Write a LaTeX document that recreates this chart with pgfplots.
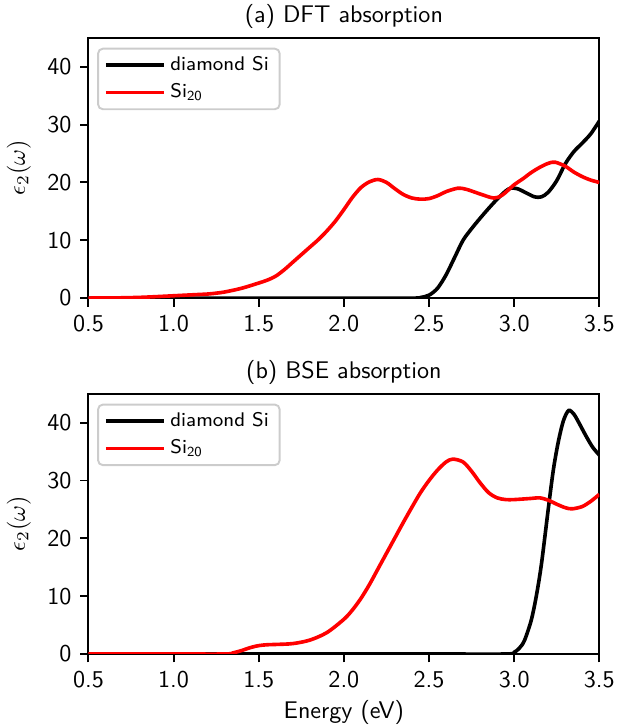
\documentclass[border=0pt]{standalone}
\usepackage{pgfplots}
\pgfplotsset{compat=1.18}
\renewcommand{\familydefault}{\sfdefault}

\pgfplotsset{
  panel/.style={
    width=212pt, height=108pt, scale only axis,
    xmin=0.5, xmax=3.5, ymin=0, ymax=45,
    xtick={0.5,1.0,1.5,2.0,2.5,3.0,3.5},
    ytick={0,10,20,30,40},
    xticklabel style={/pgf/number format/.cd, fixed, fixed zerofill, precision=1},
    /pgf/number format/assume math mode=true,
    tick label style={font=\sffamily\fontsize{10}{12}\selectfont},
    label style={font=\sffamily\fontsize{10}{12}\selectfont},
    xlabel style={yshift=1.7pt},
    title style={font=\sffamily\fontsize{10}{12}\selectfont, yshift=-5.5pt},
    tick align=outside, major tick length=3.5pt,
    xtick pos=bottom, ytick pos=left,
    axis line style={line width=0.8pt},
    every tick/.style={black, line width=0.8pt},
    ylabel={$\epsilon_2(\omega)$},
    legend cell align=left,
    legend style={
      at={(0.017,0.962)}, anchor=north west,
      draw=black!20, line width=0.8pt, rounded corners=2pt,
      fill=white, fill opacity=0.8, text opacity=1,
      font=\sffamily\fontsize{8.2}{9.5}\selectfont,
      row sep=0pt, inner xsep=2.5pt, inner ysep=1.2pt,
    },
    legend image code/.code={\draw[#1] (0pt,0pt) -- (24pt,0pt);},
    every axis plot/.append style={line width=1.5pt, smooth, tension=0.5},
  },
}

\begin{document}
\begin{tikzpicture}
\begin{axis}[panel, title={(a) DFT absorption}, at={(0,0)}]
\addplot[black] coordinates {
  (0.5,0) (1.5,0) (2.4,0) (2.45,0.1) (2.5,0.5) (2.55,1.7) (2.6,4.0) (2.65,7.0)
  (2.7,10.0) (2.75,12.0) (2.8,13.8) (2.85,15.5) (2.9,17.1) (2.95,18.5)
  (2.98,19.0) (3.02,18.9) (3.07,18.2) (3.12,17.5) (3.16,17.5) (3.2,18.3)
  (3.25,20.3) (3.3,23.2) (3.35,25.3) (3.4,26.8) (3.45,28.4) (3.5,30.6)
};
\addlegendentry{diamond Si}
\addplot[red] coordinates {
  (0.5,0) (0.6,0.02) (0.7,0.05) (0.8,0.12) (0.9,0.25) (1.0,0.4) (1.1,0.55)
  (1.2,0.7) (1.25,0.85) (1.3,1.05) (1.4,1.7) (1.5,2.6) (1.55,3.1) (1.6,3.8)
  (1.65,4.9) (1.7,6.2) (1.75,7.5) (1.8,8.8) (1.85,10.1) (1.9,11.6) (1.95,13.3)
  (2.0,15.3) (2.05,17.4) (2.1,19.1)
  (2.15,20.1) (2.2,20.5) (2.25,20.0) (2.3,18.9) (2.35,17.9) (2.4,17.3)
  (2.45,17.1) (2.5,17.2) (2.55,17.7) (2.6,18.4) (2.67,19.0) (2.72,18.8)
  (2.8,18.0) (2.88,17.3) (2.93,17.8) (3.0,19.6) (3.05,20.6) (3.1,21.7)
  (3.15,22.6) (3.2,23.3) (3.24,23.5) (3.3,22.8) (3.35,21.8) (3.4,21.0)
  (3.45,20.4) (3.5,20.0)
};
\addlegendentry{Si\textsubscript{20}}
\end{axis}

\begin{axis}[panel, title={(b) BSE absorption}, at={(0,-147.7pt)},
  xlabel={Energy (eV)}]
\addplot[black] coordinates {
  (0.5,0) (1.5,0) (2.5,0) (2.95,0) (3.0,0.3) (3.03,1.0) (3.06,2.3) (3.1,5.8)
  (3.13,10.0) (3.16,15.5) (3.2,25.0) (3.23,31.8) (3.26,36.8) (3.29,40.4)
  (3.32,42.1) (3.35,41.5) (3.38,40.0) (3.42,37.8) (3.46,35.8) (3.5,34.4)
};
\addlegendentry{diamond Si}
\addplot[red] coordinates {
  (0.5,0) (1.0,0) (1.3,0) (1.35,0.2) (1.4,0.6) (1.45,1.1) (1.5,1.45)
  (1.55,1.6) (1.6,1.65) (1.7,1.8) (1.8,2.4) (1.9,3.7) (2.0,6.0) (2.05,7.6)
  (2.1,9.6) (2.15,12.0) (2.2,14.7) (2.25,17.4) (2.3,20.1) (2.35,22.8)
  (2.4,25.4) (2.45,27.9) (2.5,30.0) (2.55,31.8) (2.6,33.2) (2.64,33.7)
  (2.7,33.2) (2.75,31.6) (2.8,29.6) (2.85,27.9) (2.9,27.0) (2.95,26.7)
  (3.0,26.7) (3.1,26.9) (3.15,27.0) (3.2,26.6) (3.25,25.9) (3.3,25.3)
  (3.34,25.1) (3.4,25.5) (3.45,26.4) (3.5,27.6)
};
\addlegendentry{Si\textsubscript{20}}
\end{axis}
% match the reference's page frame, which trims the last tick label
\pgfresetboundingbox
\path (-36.7pt,-178pt) rectangle (219.7pt,123.7pt);
\end{tikzpicture}
\end{document}
